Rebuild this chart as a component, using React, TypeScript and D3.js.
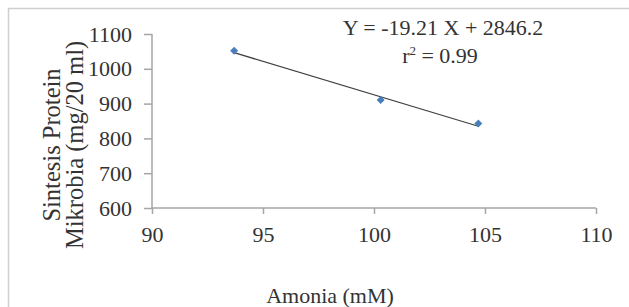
import { useRef, useEffect } from "react";
import * as d3 from "d3";

const amonia = [93.7, 100.3, 104.7];
const protein = [1052, 910, 843];
const xTicks = [90, 95, 100, 105, 110];
const yTicks = [600, 700, 800, 900, 1000, 1100];
const slope = -19.21;
const intercept = 2846.2;
const eqLabel = "Y = -19.21 X + 2846.2";
const yTitle = ["Sintesis Protein", "Mikrobia (mg/20 ml)"];
const xTitle = "Amonia (mM)";

export default function App() {
  const ref = useRef<SVGSVGElement>(null);
  const width = 629;
  const height = 307;

  useEffect(() => {
    if (!ref.current) return;
    const svg = d3.select(ref.current);
    svg.selectAll("*").remove();
    const font = "Liberation Serif, Times New Roman, serif";
    const fs = "22px";
    const ink = "#333";

    svg.append("rect").attr("width", width).attr("height", height).attr("fill", "#fff");
    // frame of the original figure (left + top edges)
    svg.append("path").attr("d", `M8.5,${height} V8.5 H${width}`)
      .attr("fill", "none").attr("stroke", "#cfcfcf").attr("stroke-width", 1.5);

    const x = d3.scaleLinear().domain([90, 110]).range([152, 596]);
    const y = d3.scaleLinear().domain([600, 1100]).range([208, 34]);
    const axisColor = "#a6a6a6";

    const gx = svg.append("g").attr("transform", `translate(0,${y(600)})`)
      .call(d3.axisBottom(x).tickValues(xTicks).tickFormat(d3.format("d")).tickSize(6).tickPadding(12));
    const gy = svg.append("g").attr("transform", `translate(${x(90)},0)`)
      .call(d3.axisLeft(y).tickValues(yTicks).tickFormat(d3.format("d")).tickSize(8).tickPadding(12));
    [gx, gy].forEach(g => {
      g.attr("font-family", null).attr("font-size", null);
      g.selectAll("text").style("font-family", font).style("font-size", fs).attr("fill", ink);
    });

    svg.selectAll(".domain").attr("stroke", axisColor).attr("stroke-width", 1.5);
    svg.selectAll(".tick line").attr("stroke", axisColor).attr("stroke-width", 1.5);
    gx.select(".domain").attr("d", `M${x(90)},0H${x(110)}`);
    gy.select(".domain").attr("d", `M0,${y(600)}V${y(1100)}`);

    // trend line
    const x0 = d3.min(amonia)!;
    const x1 = d3.max(amonia)!;
    svg.append("line")
      .attr("x1", x(x0)).attr("y1", y(slope * x0 + intercept))
      .attr("x2", x(x1)).attr("y2", y(slope * x1 + intercept))
      .attr("stroke", "#404040").attr("stroke-width", 1.3);

    // markers
    const diamond = d3.symbol().type(d3.symbolSquare).size(32);
    svg.selectAll(".pt").data(amonia).enter().append("path")
      .attr("class", "pt")
      .attr("d", diamond)
      .attr("transform", (d, i) => `translate(${x(d)},${y(protein[i])}) rotate(45)`)
      .attr("fill", "#4a7ebb");

    const txt = (sel: any, size = fs) => sel.style("font-family", font).style("font-size", size).attr("fill", ink);

    // equation
    txt(svg.append("text").attr("x", 443).attr("y", 35).attr("text-anchor", "middle")).text(eqLabel);
    const r = txt(svg.append("text").attr("x", 440).attr("y", 63).attr("text-anchor", "middle"));
    r.append("tspan").text("r");
    r.append("tspan").style("font-size", "13px").attr("dy", -8).text("2");
    r.append("tspan").attr("dy", 8).text(" = 0.99");

    // axis titles
    const yt = txt(svg.append("text").attr("transform", `translate(60,145) rotate(-90)`)
      .attr("text-anchor", "middle"), "24.5px");
    yt.append("tspan").attr("x", 0).attr("dy", 0).text(yTitle[0]);
    yt.append("tspan").attr("x", 0).attr("dy", 23).text(yTitle[1]);

    txt(svg.append("text").attr("x", 330).attr("y", 303).attr("text-anchor", "middle")).text(xTitle);
  }, []);

  return (
    <svg ref={ref} width={width} height={height}
      style={{ position: "absolute", left: 0, top: 0, display: "block" }} />
  );
}
